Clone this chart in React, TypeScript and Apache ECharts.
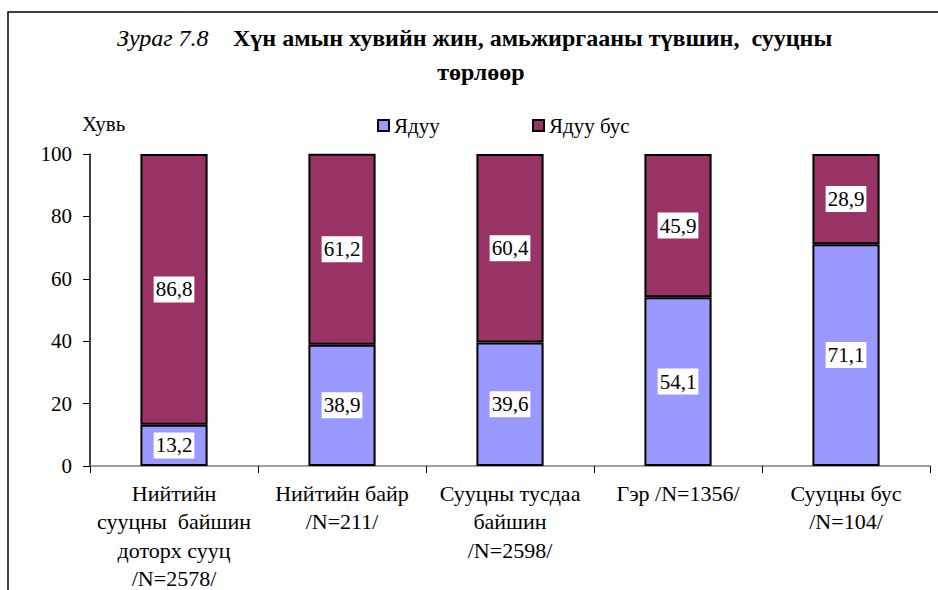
import React, { useEffect, useRef } from "react";
import * as echarts from "echarts";

const categories = [
  "Нийтийн\nсууцны  байшин\nдоторх сууц\n/N=2578/",
  "Нийтийн байр\n/N=211/",
  "Сууцны тусдаа\nбайшин\n/N=2598/",
  "Гэр /N=1356/",
  "Сууцны бус\n/N=104/",
];
const poor = [13.2, 38.9, 39.6, 54.1, 71.1];
const nonPoor = [86.8, 61.2, 60.4, 45.9, 28.9];
const seriesNames = ["Ядуу", "Ядуу бус"];
const titlePrefix = "Зураг 7.8";
const titleLine1 = "Хүн амын хувийн жин, амьжиргааны түвшин,  сууцны";
const titleLine2 = "төрлөөр";
const yAxisName = "Хувь";

const FONT = "'Liberation Serif'";

export default function App() {
  const ref = useRef<HTMLDivElement>(null);
  useEffect(() => {
    document.body.style.margin = "0";
    const chart = echarts.init(ref.current!, null, { renderer: "svg" });
    const labelCfg = {
      show: true,
      position: "inside",
      color: "#000",
      fontFamily: FONT,
      fontSize: 21,
      backgroundColor: "#fff",
      padding: [3, 2, 2, 2],
      formatter: (p: any) => String(p.value).replace(".", ","),
    };
    const legendText = { fontFamily: FONT, fontSize: 21, color: "#000" };
    chart.setOption({
      animation: false,
      textStyle: { fontFamily: FONT },
      grid: { left: 90, right: 8, top: 154, bottom: 124, containLabel: false, outerBoundsMode: "none" },
      legend: [
        {
          data: [seriesNames[0]],
          left: 372,
          top: 110,
          icon: "rect",
          itemWidth: 11,
          itemHeight: 11,
          textStyle: legendText,
        },
        {
          data: [seriesNames[1]],
          left: 527,
          top: 110,
          icon: "rect",
          itemWidth: 11,
          itemHeight: 11,
          textStyle: legendText,
        },
      ],
      xAxis: {
        type: "category",
        data: categories,
        axisLine: { lineStyle: { color: "#808080", width: 1.5 } },
        axisTick: { show: true, length: 7, lineStyle: { color: "#000" } },
        axisLabel: {
          interval: 0,
          color: "#000",
          fontFamily: FONT,
          fontSize: 22,
          lineHeight: 28.5,
          margin: 13,
        },
      },
      yAxis: {
        type: "value",
        min: 0,
        max: 100,
        interval: 20,
        splitLine: { show: false },
        axisLine: { show: true, lineStyle: { color: "#000", width: 1.5 } },
        axisTick: { show: true, inside: false, length: 7, lineStyle: { color: "#000" } },
        axisLabel: { color: "#000", fontFamily: FONT, fontSize: 21, margin: 18 },
      },
      series: [
        {
          name: seriesNames[0],
          type: "bar",
          stack: "total",
          data: poor,
          barWidth: "40%",
          itemStyle: { color: "#9999FF", borderColor: "#000", borderWidth: 2 },
          label: labelCfg,
        },
        {
          name: seriesNames[1],
          type: "bar",
          stack: "total",
          data: nonPoor,
          barWidth: "40%",
          itemStyle: { color: "#993366", borderColor: "#000", borderWidth: 2 },
          label: labelCfg,
        },
      ],
      graphic: [
        {
          type: "rect",
          shape: { x: 8, y: 12, width: 1000, height: 700 },
          style: { fill: "none", stroke: "#000", lineWidth: 1.5 },
          silent: true,
        },
        {
          type: "text",
          x: 117,
          y: 38,
          style: {
            text: titlePrefix,
            align: "left",
            verticalAlign: "middle",
            fontFamily: FONT,
            fontStyle: "italic",
            fontSize: 24,
            fill: "#000",
          },
        },
        {
          type: "text",
          x: 233,
          y: 38,
          style: {
            text: titleLine1,
            align: "left",
            verticalAlign: "middle",
            fontFamily: FONT,
            fontWeight: "bold",
            fontSize: 24,
            fill: "#000",
          },
        },
        {
          type: "text",
          x: 481,
          y: 72,
          style: {
            text: titleLine2,
            align: "center",
            verticalAlign: "middle",
            fontFamily: FONT,
            fontWeight: "bold",
            fontSize: 24,
            fill: "#000",
          },
        },
        {
          type: "text",
          x: 82,
          y: 124,
          style: {
            text: yAxisName,
            align: "left",
            verticalAlign: "middle",
            fontFamily: FONT,
            fontSize: 21,
            fill: "#000",
          },
        },
      ],
    });
    return () => chart.dispose();
  }, []);
  return <div ref={ref} style={{ width: 938, height: 590 }} />;
}
